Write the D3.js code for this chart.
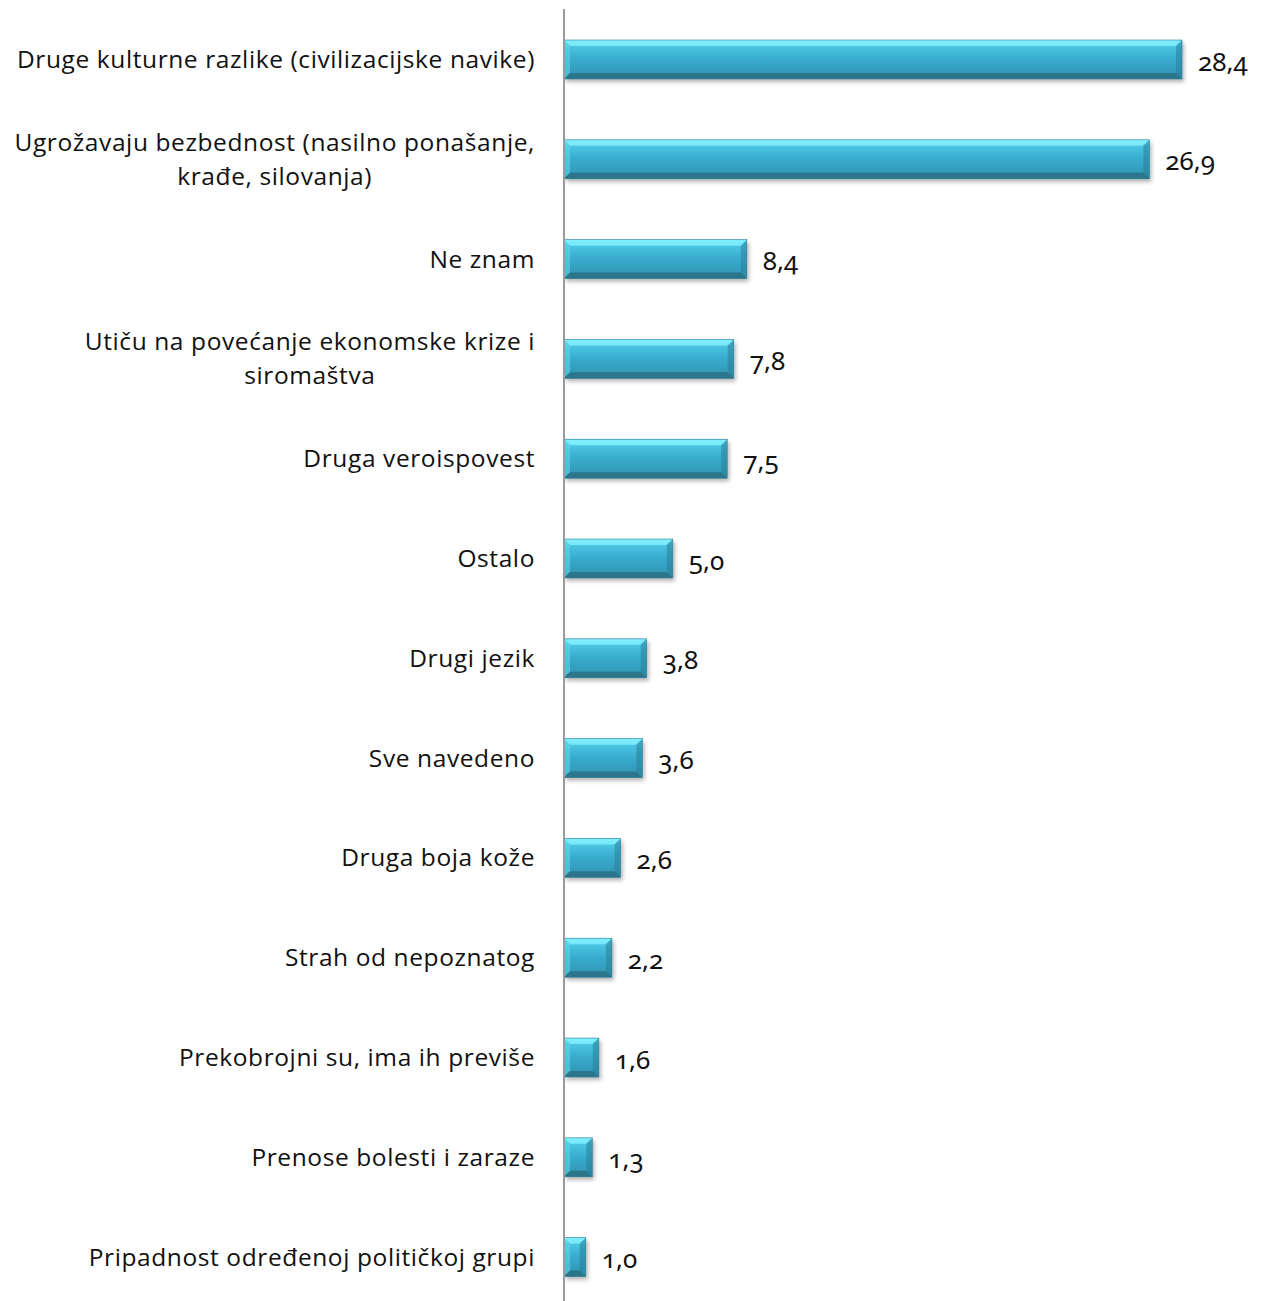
<!DOCTYPE html>
<html>
<head>
<meta charset="utf-8">
<script src="https://cdn.jsdelivr.net/npm/d3@7"></script>
<style>
  html, body { margin: 0; padding: 0; background: #ffffff; }
  svg { display: block; }
  .cat { font-family: "Open Sans", "Noto Sans", sans-serif; font-size: 24.5px; letter-spacing: 0.6px; fill: #111; }
  .val { font-family: "Noto Sans", "Open Sans", sans-serif; font-size: 26px; fill: #111; font-variant-numeric: oldstyle-nums; font-feature-settings: "onum" 1; }
</style>
</head>
<body>
<svg id="chart" width="1267" height="1301"></svg>
<script>
const categories = [
  ["Druge kulturne razlike (civilizacijske navike)"],
  ["Ugrožavaju bezbednost (nasilno ponašanje,", "krađe, silovanja)"],
  ["Ne znam"],
  ["Utiču na povećanje ekonomske krize i", "siromaštva"],
  ["Druga veroispovest"],
  ["Ostalo"],
  ["Drugi jezik"],
  ["Sve navedeno"],
  ["Druga boja kože"],
  ["Strah od nepoznatog"],
  ["Prekobrojni su, ima ih previše"],
  ["Prenose bolesti i zaraze"],
  ["Pripadnost određenoj političkoj grupi"]
];
const values = [28.4, 26.9, 8.4, 7.8, 7.5, 5.0, 3.8, 3.6, 2.6, 2.2, 1.6, 1.3, 1.0];

const svg = d3.select("#chart");
const x0 = 564;
const x = d3.scaleLinear().domain([0, 28.4]).range([x0, 1182]);
const ids = d3.range(values.length);
const y = d3.scaleBand().domain(ids).range([9.6, 1307]).paddingInner(0.61).paddingOuter(0.305);

const defs = svg.append("defs");
const g1 = defs.append("linearGradient").attr("id", "body").attr("x1", 0).attr("y1", 0).attr("x2", 0).attr("y2", 1);
[[0, "#70e6fa"], [0.18, "#49c3e0"], [0.5, "#38abcd"], [0.85, "#3399b8"], [1, "#2f8aa6"]]
  .forEach(([o, c]) => g1.append("stop").attr("offset", o).attr("stop-color", c));
const f = defs.append("filter").attr("id", "shadow").attr("x", "-10%").attr("y", "-20%").attr("width", "130%").attr("height", "160%");
f.append("feDropShadow").attr("dx", 2).attr("dy", 3).attr("stdDeviation", 2).attr("flood-color", "#000").attr("flood-opacity", 0.3);

const bars = svg.append("g").selectAll("g").data(ids).join("g");
const bh = y.bandwidth();
const b = 6;
bars.each(function(i) {
  const g = d3.select(this);
  const X0 = x(0), X1 = x(values[i]), Y0 = y(i), Y1 = y(i) + bh;
  g.append("rect").attr("x", X0).attr("y", Y0).attr("width", X1 - X0).attr("height", bh)
    .attr("fill", "url(#body)").attr("filter", "url(#shadow)");
  const bb = Math.min(b, (X1 - X0) / 2);
  g.append("polygon").attr("points", [[X0, Y0], [X1, Y0], [X1 - bb, Y0 + b], [X0 + bb, Y0 + b]].join(" "))
    .attr("fill", "#86f2ff").attr("opacity", 0.75);
  g.append("polygon").attr("points", [[X0, Y0], [X0 + bb, Y0 + b], [X0 + bb, Y1 - b], [X0, Y1]].join(" "))
    .attr("fill", "#5fd3ea").attr("opacity", 0.6);
  g.append("polygon").attr("points", [[X1, Y0], [X1, Y1], [X1 - bb, Y1 - b], [X1 - bb, Y0 + b]].join(" "))
    .attr("fill", "#2a8099").attr("opacity", 0.55);
  g.append("polygon").attr("points", [[X0, Y1], [X0 + bb, Y1 - b], [X1 - bb, Y1 - b], [X1, Y1]].join(" "))
    .attr("fill", "#2a6e82").attr("opacity", 0.8);
  g.append("rect").attr("x", X0).attr("y", Y0).attr("width", X1 - X0).attr("height", bh)
    .attr("fill", "none").attr("stroke", "#2d7f97").attr("stroke-width", 0.6);
});

svg.append("line").attr("x1", x0).attr("x2", x0).attr("y1", 9).attr("y2", 1301)
  .attr("stroke", "#9a9a9a").attr("stroke-width", 2);

const lh = 34;
ids.forEach(i => {
  const lines = categories[i];
  const cy = y(i) + bh / 2;
  const t = svg.append("text").attr("class", "cat").attr("text-anchor", "middle");
  const spans = lines.map(l => t.append("tspan").text(l));
  let maxW = 0;
  spans.forEach(s => { maxW = Math.max(maxW, s.node().getComputedTextLength()); });
  const cx = 535 - maxW / 2;
  spans.forEach((s, k) => {
    s.attr("x", cx).attr("y", cy + (k - (lines.length - 1) / 2) * lh).attr("dy", "0.35em");
  });
});

svg.append("g").selectAll("text").data(ids).join("text")
  .attr("class", "val")
  .attr("x", i => x(values[i]) + 16)
  .attr("y", i => y(i) + bh / 2 + 2)
  .attr("dy", "0.35em")
  .text(i => d3.format(".1f")(values[i]).replace(".", ","));
</script>
</body>
</html>
